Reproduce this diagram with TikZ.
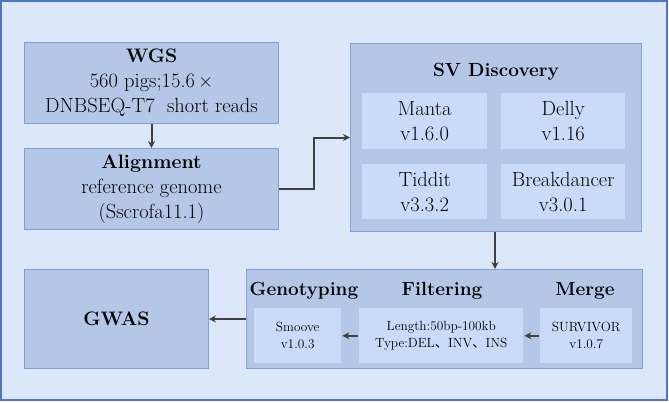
\documentclass[tikz,border=0pt]{standalone}
\usepackage{fontspec}
\newfontfamily\cjk{Noto Sans CJK SC}
\usetikzlibrary{arrows.meta}
\definecolor{bgfill}{HTML}{DDE7FA}
\definecolor{frameblue}{HTML}{4A76C6}
\definecolor{boxfill}{HTML}{B4C7E7}
\definecolor{boxline}{HTML}{7FA0D8}
\definecolor{innerfill}{HTML}{C9DBF8}
\definecolor{arrowcol}{HTML}{404040}
\newcommand\hd[1]{{\fontsize{19.5}{25}\selectfont\bfseries #1}}
\tikzset{
  bigbox/.style={draw=boxline, fill=boxfill, line width=1pt, inner sep=0pt, anchor=north west, align=center, font=\fontsize{20.5}{25}\selectfont},
  innerbox/.style={fill=innerfill, inner sep=0pt, anchor=north west, align=center},
  bigtxt/.style={font=\fontsize{20.5}{25}\selectfont},
  smalltxt/.style={font=\fontsize{13.3}{17}\selectfont},
  ttl/.style={font=\fontsize{19}{25}\selectfont\bfseries, inner sep=0pt},
  conn/.style={draw=arrowcol, line width=2pt, -{Stealth[length=7pt,width=7pt]}},
}
\begin{document}
\begin{tikzpicture}[x=1pt,y=-1pt]
\useasboundingbox (0,0) rectangle (669,402);
\draw[fill=bgfill, draw=frameblue, line width=2pt] (1,1) rectangle (667,400);
% WGS
\node[bigbox, minimum width=254pt, minimum height=81pt] (wgs) at (24,42)
  {\hd{WGS}\\560 pigs;15.6\,×\\DNBSEQ-T7\ \ short reads};
% Alignment
\node[bigbox, minimum width=254pt, minimum height=81pt] (align) at (24,148)
  {\hd{Alignment}\\reference genome\\(Sscrofa11.1)};
% SV discovery
\node[bigbox, minimum width=291pt, minimum height=188pt] (sv) at (350,43) {};
\node[ttl] (svt) at (496,72) {SV Discovery};
\node[innerbox, bigtxt, minimum width=125pt, minimum height=56pt] (manta) at (362,93) {Manta\\v1.6.0};
\node[innerbox, bigtxt, minimum width=124pt, minimum height=56pt] (delly) at (501,93) {Delly\\v1.16};
\node[innerbox, bigtxt, minimum width=125pt, minimum height=55pt] (tiddit) at (362,164) {Tiddit\\v3.3.2};
\node[innerbox, bigtxt, minimum width=124pt, minimum height=55pt] (bd) at (501,164) {Breakdancer\\v3.0.1};
% bottom box
\node[bigbox, minimum width=396pt, minimum height=99pt] (bot) at (246,269) {};
\node[ttl] (gt) at (304,291) {Genotyping};
\node[ttl] (ft) at (442,291) {Filtering};
\node[ttl] (mt) at (585,291) {Merge};
\node[innerbox, smalltxt, minimum width=87pt, minimum height=55pt] (smoove) at (254,308) {Smoove\\v1.0.3};
\node[innerbox, smalltxt, minimum width=164pt, minimum height=55pt] (filt) at (359,308) {Length:50bp-100kb\\Type:DEL{\cjk 、}INV{\cjk 、}INS};
\node[innerbox, smalltxt, minimum width=92pt, minimum height=55pt] (surv) at (540,308) {SURVIVOR\\v1.0.7};
% GWAS
\node[bigbox, minimum width=184pt, minimum height=99pt] (gwas) at (24,269) {\hd{GWAS}};
% connectors
\draw[conn] (wgs.south) -- (align.north);
\draw[conn] (align.east) -- ++(35,0) |- (sv.west);
\draw[conn] (sv.south -| 495,0) -- (bot.north -| 495,0);
\draw[conn, line width=1.8pt] ([xshift=-1pt]surv.west) -- ([xshift=1pt]filt.east);
\draw[conn, line width=1.8pt] ([xshift=-1pt]filt.west) -- ([xshift=1pt]smoove.east);
\draw[conn] (bot.west |- 0,319) -- (gwas.east |- 0,319);
\end{tikzpicture}
\end{document}
